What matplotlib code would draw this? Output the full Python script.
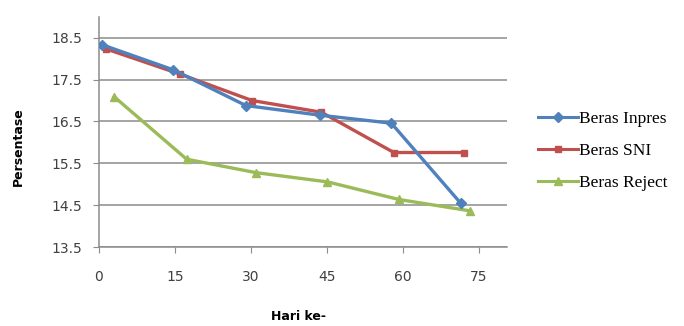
import matplotlib
matplotlib.use("Agg")
import matplotlib.pyplot as plt
from matplotlib.lines import Line2D

# data
hari_inpres = [0.6, 14.7, 29.0, 43.6, 57.7, 71.4]
inpres = [18.33, 17.73, 16.88, 16.65, 16.46, 14.55]
hari_sni = [1.4, 16.0, 30.2, 43.9, 58.2, 72.0]
sni = [18.23, 17.63, 17.00, 16.72, 15.76, 15.76]
hari_reject = [3.0, 17.3, 31.0, 45.1, 59.2, 73.2]
reject = [17.09, 15.60, 15.28, 15.06, 14.64, 14.37]

x_ticks = [0, 15, 30, 45, 60, 75]
y_ticks = [13.5, 14.5, 15.5, 16.5, 17.5, 18.5]

BLUE = "#4F81BD"
RED = "#C0504D"
GREEN = "#9BBB59"

fig = plt.figure(figsize=(6.84, 3.26), dpi=100)
ax = fig.add_axes([0.1447, 0.2414, 0.5963, 0.7076])

ax.plot(hari_inpres, inpres, color=BLUE, lw=2.4, marker="D", markersize=5, zorder=4)
ax.plot(hari_sni, sni, color=RED, lw=2.4, marker="s", markersize=5, zorder=3)
ax.plot(hari_reject, reject, color=GREEN, lw=2.4, marker="^", markersize=6, zorder=2)

ax.set_xlim(0, 80.5)
ax.set_ylim(13.5, 19.0)
ax.set_xticks(x_ticks)
ax.set_yticks(y_ticks)
ax.set_xticklabels([str(v) for v in x_ticks], fontsize=10, color="#404040")
ax.set_yticklabels(["%.1f" % v for v in y_ticks], fontsize=10, color="#404040")
ax.grid(axis="y", color="#8c8c8c", lw=1.1)
ax.set_axisbelow(True)
for s in ("top", "right"):
    ax.spines[s].set_visible(False)
for s in ("left", "bottom"):
    ax.spines[s].set_color("#8c8c8c")
    ax.spines[s].set_linewidth(1.1)
ax.tick_params(axis="both", color="#8c8c8c", length=4)
ax.tick_params(axis="x", pad=12)
ax.tick_params(axis="y", pad=8)

ax.set_xlabel("Hari ke-", fontsize=9, fontweight="bold")
ax.set_ylabel("Persentase", fontsize=9, fontweight="bold")
ax.xaxis.set_label_coords(0.49, -0.27)
ax.yaxis.set_label_coords(-0.181, 0.435)

handles = [
    Line2D([0], [0], color=BLUE, lw=2.2, marker="D", markersize=5, label="Beras Inpres"),
    Line2D([0], [0], color=RED, lw=2.2, marker="s", markersize=5, label="Beras SNI"),
    Line2D([0], [0], color=GREEN, lw=2.2, marker="^", markersize=6, label="Beras Reject"),
]
fig.legend(handles=handles, loc="center left", bbox_to_anchor=(0.776, 0.537),
           frameon=False, prop={"family": "Liberation Serif", "size": 12.5},
           handlelength=2.3, handletextpad=0.1, labelspacing=0.9,
           borderaxespad=0.0)

fig.savefig("out.png", dpi=100, facecolor="white")
